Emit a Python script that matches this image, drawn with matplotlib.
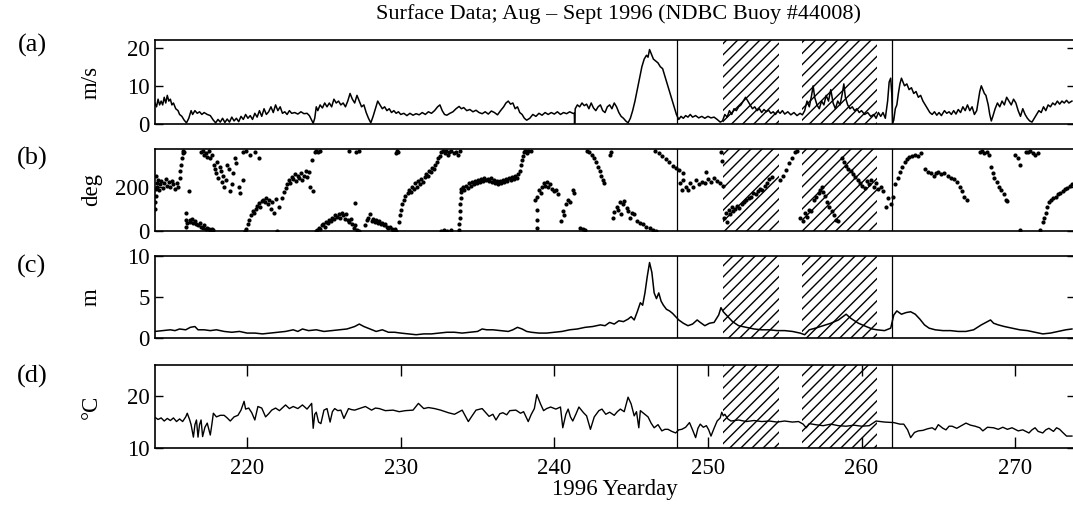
import matplotlib
matplotlib.use('Agg')
import matplotlib.pyplot as plt

plt.rcParams['font.family'] = ['Liberation Serif', 'DejaVu Serif']
plt.rcParams['hatch.linewidth'] = 1.0

# ---- data (yearday 1996) ----
# (a) wind speed, m/s
wspd_day = [
    214.0, 214.1, 214.2, 214.3, 214.4, 214.5, 214.6, 214.7, 214.8, 214.9,
    215.0, 215.1, 215.2, 215.35, 215.5, 215.6, 215.75, 215.9, 216.05, 216.2,
    216.35, 216.45, 216.6, 216.75, 216.9, 217.05, 217.2, 217.4, 217.6, 217.8,
    217.95, 218.1, 218.25, 218.4, 218.55, 218.7, 218.85, 219.0, 219.15, 219.3,
    219.45, 219.6, 219.75, 219.9, 220.05, 220.2, 220.35, 220.5, 220.65, 220.8,
    220.95, 221.1, 221.25, 221.4, 221.55, 221.7, 221.85, 222.0, 222.15, 222.3,
    222.45, 222.6, 222.75, 222.9, 223.1, 223.3, 223.5, 223.7, 223.9, 224.05,
    224.2, 224.3, 224.4, 224.5, 224.6, 224.75, 224.9, 225.05, 225.2, 225.35,
    225.5, 225.65, 225.8, 225.95, 226.1, 226.25, 226.4, 226.55, 226.7, 226.85,
    227.0, 227.15, 227.3, 227.45, 227.6, 227.75, 227.9, 228.05, 228.2, 228.35,
    228.5, 228.65, 228.8, 228.95, 229.1, 229.25, 229.4, 229.55, 229.7, 229.85,
    230.0, 230.2, 230.4, 230.6, 230.8, 231.0, 231.2, 231.4, 231.6, 231.8,
    232.0, 232.2, 232.4, 232.55, 232.7, 232.85, 233.0, 233.2, 233.4, 233.6,
    233.8, 233.95, 234.1, 234.3, 234.5, 234.7, 234.9, 235.1, 235.3, 235.5,
    235.7, 235.9, 236.1, 236.3, 236.5, 236.7, 236.85, 237.0, 237.15, 237.3,
    237.45, 237.6, 237.75, 237.9, 238.05, 238.2, 238.4, 238.6, 238.8, 239.0,
    239.2, 239.4, 239.6, 239.8, 240.0, 240.2, 240.4, 240.6, 240.8, 241.0,
    241.2, 241.3, 241.32, 241.36, 241.5, 241.65, 241.8, 241.95, 242.1, 242.25,
    242.4, 242.55, 242.7, 242.85, 243.0, 243.15, 243.3, 243.45, 243.6, 243.75,
    243.9, 244.05, 244.2, 244.35, 244.5, 244.65, 244.8, 244.95, 245.1, 245.25,
    245.4, 245.55, 245.7, 245.85, 246.0, 246.1, 246.2, 246.3, 246.45, 246.6,
    246.75, 246.9, 247.05, 247.2, 247.35, 247.5, 247.65, 247.8, 247.95, 248.1,
    248.25, 248.4, 248.55, 248.7, 248.85, 249.0, 249.2, 249.4, 249.6, 249.8,
    250.0, 250.2, 250.4, 250.6, 250.8, 250.95, 251.1, 251.25, 251.4, 251.55,
    251.7, 251.85, 252.0, 252.15, 252.3, 252.45, 252.6, 252.75, 252.9, 253.05,
    253.2, 253.35, 253.5, 253.65, 253.8, 253.95, 254.1, 254.25, 254.4, 254.55,
    254.7, 254.85, 255.0, 255.2, 255.4, 255.6, 255.8, 256.0, 256.15, 256.3,
    256.45, 256.6, 256.75, 256.85, 256.95, 257.1, 257.25, 257.4, 257.55, 257.7,
    257.85, 258.0, 258.15, 258.3, 258.45, 258.6, 258.75, 258.85, 258.95, 259.1,
    259.25, 259.4, 259.55, 259.7, 259.85, 260.0, 260.2, 260.4, 260.6, 260.8,
    260.95, 261.1, 261.25, 261.4, 261.55, 261.7, 261.8, 261.9, 261.97, 262.02,
    262.1, 262.2, 262.3, 262.4, 262.5, 262.6, 262.7, 262.8, 262.95, 263.1,
    263.25, 263.4, 263.55, 263.7, 263.85, 264.0, 264.15, 264.3, 264.45, 264.6,
    264.75, 264.9, 265.05, 265.2, 265.4, 265.55, 265.7, 265.85, 266.0, 266.15,
    266.3, 266.45, 266.6, 266.75, 266.9, 267.05, 267.2, 267.35, 267.5, 267.6,
    267.7, 267.8, 267.9, 268.0, 268.1, 268.25, 268.35, 268.45, 268.55, 268.7,
    268.85, 269.0, 269.15, 269.3, 269.45, 269.6, 269.75, 269.9, 270.05, 270.2,
    270.35, 270.5, 270.65, 270.8, 270.95, 271.1, 271.25, 271.4, 271.55, 271.7,
    271.85, 272.0, 272.15, 272.3, 272.45, 272.6, 272.75, 272.9, 273.05, 273.2,
    273.35, 273.5, 273.7,
]
wspd = [
    5.5, 4.5, 6.5, 5, 6, 5, 7, 5.5, 7.5, 6,
    6.5, 5, 5.5, 4, 3.5, 2.5, 2, 1, 0.3, 1.5,
    3.5, 2.5, 3.5, 2.8, 3.2, 2.5, 3, 2.5, 2.2, 1,
    0.3, 1.2, 0.5, 1.5, 0.4, 1.3, 0.5, 1.8, 0.8, 1.5,
    0.6, 2, 1.2, 2.5, 1.5, 2.2, 1.2, 2.8, 1.8, 3.5,
    2.0, 4, 2.5, 3.2, 4.5, 3, 5, 3.5, 4.5, 2.8,
    3.2, 2.5, 3.5, 2.8, 3.0, 2.6, 3.2, 2.7, 2.8, 2.2,
    1.0, 0.2, 1.5, 4.5, 3.5, 5, 4.2, 5.5, 4.5, 5.5,
    4.5, 6.5, 5.5, 6, 5, 5.5, 4.5, 6, 8, 6.5,
    5.5, 7.5, 6, 4.5, 5, 3, 1.5, 0.3, 2, 4,
    6, 5, 4, 4.5, 3.5, 4, 3, 3.5, 2.8, 3.2,
    2.5, 2.8, 2.2, 2.8, 2.3, 2.7, 2.4, 3.0, 2.5, 3.2,
    2.8, 3.5, 4.5, 5, 3.5, 2.5, 2.3, 2.8, 3.2, 4,
    4.6, 4, 4.3, 3.5, 3.8, 3.2, 3.6, 3, 2.7, 3.2,
    2.6, 3.4, 3.0, 2.4, 3.5, 4.5, 5.5, 6, 5.2, 5.5,
    4, 4.5, 3, 2.5, 1.5, 1.0, 1.5, 2.5, 2, 2.8,
    2.3, 3, 2.5, 3, 2.6, 3.2, 2.5, 3, 2.7, 3.2,
    2.8, 2.8, 0.1, 4, 5, 4.5, 5.5, 4.8, 5.2, 4,
    5.5, 4.2, 3.5, 4.5, 5, 3.5, 3, 4.5, 5, 4,
    5.5, 4.5, 3, 2, 1.5, 0.8, 0.3, 1.5, 3.5, 6,
    9, 12, 15, 17, 18, 17.5, 19.5, 18.5, 17, 16.5,
    16, 15, 14.5, 12.5, 10.5, 8.5, 6.5, 4.5, 2.5, 1.2,
    2, 1.5, 2.2, 1.8, 2.5, 1.8, 2.2, 1.6, 2, 1.5,
    2, 1.6, 1.8, 1.2, 0.5, 0.8, 2.5, 1.8, 3.5, 2.5,
    4, 3.5, 4.5, 5, 6, 7, 6, 5, 4, 4.5,
    3.5, 4, 3, 3.8, 3.2, 3.6, 2.8, 3.2, 2.5, 3.4,
    2.8, 3.5, 2.6, 3.2, 2.4, 3, 2.2, 2.8, 2.4, 3.5,
    6, 4.5, 7.5, 10, 7, 5, 4, 6, 5, 7.5,
    6, 9, 5.5, 4, 6, 5, 8, 10.5, 7, 5,
    4, 4.5, 3.5, 4, 3, 3.5, 2.5, 3, 2, 2.5,
    1.5, 3, 2, 3, 1.5, 6, 11, 12, 8, 0.3,
    1, 4, 5, 8, 10.5, 12, 11, 10, 10.5, 9,
    9.5, 8, 8.5, 7, 7.5, 6, 5, 4, 3, 2.5,
    3.2, 2.3, 3, 2.2, 3.5, 2.8, 3.2, 2.5, 3.5, 2.6,
    3.8, 3, 4.5, 3.5, 5, 3.5, 4.5, 2.5, 3.5, 6,
    8.5, 10, 9, 8, 7.5, 5, 2.5, 0.8, 2, 4,
    5.5, 4.5, 6, 5, 7, 6, 5, 6.5, 5.5, 3.5,
    2, 4, 2.5, 1.5, 0.8, 0.5, 1.5, 2.5, 3.5, 3,
    4.5, 3.5, 5, 4.5, 5.5, 5, 6, 5.2, 6, 5.5,
    6.2, 5.5, 6,
]

# (b) wind direction, deg (individual observations)
wdir_day = [
    214.0, 214.02, 214.04, 214.06, 214.08, 214.1, 214.15, 214.2, 214.25, 214.3, 214.4,
    214.5, 214.6, 214.7, 214.8, 214.9, 215.0, 215.1, 215.2, 215.3, 215.4, 215.5,
    215.6, 215.65, 215.7, 215.75, 215.8, 215.85, 215.9,
    216.0, 216.02, 216.05, 216.1, 216.2, 216.25, 216.3, 216.4, 216.5, 216.6, 216.7,
    216.8, 216.9, 217.0, 217.1, 217.2, 217.3, 217.4, 217.5, 217.6, 217.7, 217.8,
    217.0, 217.1, 217.2, 217.3, 217.4, 217.5, 217.6, 217.7,
    217.85, 217.9, 218.0, 218.05, 218.1, 218.2, 218.3, 218.35, 218.45, 218.5, 218.6,
    218.7, 218.8, 218.9, 219.0, 219.1, 219.2, 219.3, 219.45, 219.55, 219.7,
    219.7, 219.9, 220.2, 220.5, 220.8,
    219.85, 219.95, 220.05, 220.15, 220.25, 220.35, 220.45, 220.55, 220.65, 220.75, 220.85, 220.95,
    221.05, 221.15, 221.25, 221.35, 221.45, 221.55, 221.65, 221.75, 221.85, 221.95, 222.05,
    222.3, 222.4, 222.5, 222.6, 222.7, 222.8, 222.9, 223.0, 223.1, 223.2,
    223.3, 223.4, 223.5, 223.6, 223.7, 223.8, 223.9, 224.0, 224.1,
    224.2, 224.3, 224.4, 224.5, 224.6, 224.75,
    224.45, 224.55, 224.65, 224.75, 224.85, 224.95, 225.05, 225.15, 225.25, 225.35,
    225.45, 225.55, 225.65, 225.75, 225.85, 225.95, 226.05, 226.15, 226.25, 226.35,
    226.45, 226.55, 226.65, 226.75, 226.85, 226.95, 227.05, 227.15, 227.25,
    227.0, 226.6, 227.1, 227.3,
    227.7, 227.8, 227.9, 228.0, 228.1, 228.2, 228.3, 228.4, 228.5, 228.6, 228.7,
    228.8, 228.9, 229.0, 229.1, 229.2, 229.3, 229.4, 229.5, 229.6, 229.7,
    229.7, 229.75, 229.85,
    229.9, 229.95, 230.0, 230.1, 230.2, 230.3, 230.45, 230.55,
    230.65, 230.75, 230.85, 230.95, 231.05, 231.15, 231.25, 231.35, 231.45, 231.55, 231.65,
    231.75, 231.85, 231.95, 232.05, 232.15, 232.25, 232.35, 232.45, 232.55, 232.65, 232.75,
    232.85, 232.95, 233.05, 233.15, 233.3, 233.45, 233.6, 233.75, 233.85, 232.6, 232.8, 233.0, 233.25,
    233.8, 233.82, 233.84, 233.86, 233.88, 233.9, 233.92,
    233.95, 234.05, 234.15, 234.25, 234.35, 234.45, 234.55, 234.65, 234.75, 234.85,
    234.95, 235.05, 235.15, 235.25, 235.35, 235.45, 235.55, 235.65, 235.75, 235.85,
    235.95, 236.05, 236.15, 236.25, 236.35, 236.45, 236.55, 236.65, 236.75, 236.85,
    236.95, 237.05, 237.15, 237.25, 237.35, 237.45, 237.55, 237.65,
    237.75, 237.85, 237.9, 237.95, 238.0, 238.1, 238.2, 238.3,
    238.45, 238.75, 238.85, 238.88, 238.9,
    238.9, 239.0, 239.1, 239.2, 239.3, 239.4, 239.5, 239.6, 239.75, 239.85, 239.95, 240.1, 240.25,
    240.45, 240.55, 240.65, 240.75, 240.9, 241.05, 241.2, 241.3,
    241.7, 241.85, 242.0,
    242.15, 242.25, 242.45, 242.6, 242.7, 242.85, 242.95, 243.05, 243.15, 243.25, 243.6, 243.7,
    243.8, 243.9, 244.05, 244.15, 244.25, 244.35, 244.5, 244.55, 244.7, 244.8,
    244.9, 245.05, 245.2, 245.4, 245.6, 245.8, 246.0, 246.2, 246.4, 246.6,
    246.55, 246.8, 247.0, 247.25, 247.45, 247.7, 247.9, 248.1,
    248.2, 248.3, 248.35, 248.4, 248.55, 248.7, 248.85, 249.0, 249.2, 249.4, 249.6,
    249.8, 250.0, 250.2, 250.4, 250.6, 250.8, 250.95, 249.9, 250.85, 250.9,
    251.05, 251.15, 251.25, 251.35, 251.45, 251.55, 251.65, 251.75, 251.9, 252.05, 252.2, 252.35,
    252.5, 252.65, 252.8, 252.95, 253.1, 253.25, 253.4, 253.55, 253.7, 253.85, 254.0, 254.15,
    254.7, 254.9, 255.1, 255.3, 255.5, 255.7, 255.8,
    256.0, 256.2, 256.3, 256.45, 256.6, 256.7,
    256.9, 257.05, 257.2, 257.3, 257.4, 257.5, 257.6, 257.75, 257.9, 258.05, 258.2, 258.35, 258.5,
    258.7, 258.85, 259.0, 259.15, 259.3, 259.45, 259.6, 259.75, 259.9, 260.05,
    260.2, 260.35, 260.5, 260.65, 260.8, 260.95, 261.1, 261.25, 261.4,
    261.6, 261.75, 261.9, 262.05,
    262.2, 262.35, 262.5, 262.65, 262.8, 262.95, 263.1, 263.3, 263.5, 263.7, 263.9,
    264.15, 264.35, 264.5, 264.7, 264.85, 265.0, 265.2, 265.4, 265.6, 265.8,
    266.0, 266.2, 266.4, 266.55, 266.7, 266.85,
    267.7, 267.85, 268.0, 268.15, 268.3,
    268.45, 268.55, 268.65, 268.8, 268.95, 269.1, 269.25, 269.4, 269.5,
    270.0, 270.2, 270.35, 270.3,
    270.7, 270.85, 271.0, 271.15, 271.3, 271.5, 271.65, 271.8,
    271.9, 272.0, 272.1, 272.2, 272.35, 272.5, 272.65, 272.8, 272.95, 273.1, 273.25, 273.4, 273.55, 273.7,
]
wdir = [
    100, 130, 160, 250, 190, 215, 200, 230, 185, 210, 225,
    195, 215, 235, 205, 220, 200, 225, 210, 190, 215, 200,
    240, 270, 300, 330, 350, 360, 355,
    20, 50, 80, 35, 180, 50, 40, 55, 35, 45, 30,
    25, 35, 20, 15, 25, 10, 15, 8, 5, 10, 3,
    355, 360, 345, 350, 335, 360, 330, 345,
    300, 280, 260, 310, 240, 290, 270, 220, 250, 200, 230,
    300, 280, 180, 210, 260, 330, 305, 200, 170, 230,
    355, 360, 345, 358, 330,
    0, 10, 30, 50, 70, 90, 80, 100, 115, 125, 110, 135,
    140, 130, 150, 120, 140, 100, 130, 80, 145, 0, 110,
    150, 175, 195, 210, 230, 215, 245, 235, 255, 225,
    250, 240, 260, 230, 250, 270, 245, 265, 200,
    320, 180, 358, 360, 355, 360,
    0, 5, 15, 10, 25, 30, 20, 40, 35, 50,
    45, 60, 55, 70, 65, 75, 60, 80, 70, 55,
    75, 50, 40, 55, 30, 15, 25, 5, 0,
    125, 360, 355, 360,
    25, 50, 60, 75, 45, 55, 40, 50, 35, 45, 30,
    35, 25, 30, 20, 15, 20, 10, 5, 8, 0,
    350, 360, 355,
    40, 70, 95, 120, 140, 160, 170, 185,
    175, 200, 190, 215, 200, 225, 210, 235, 220, 245, 255,
    250, 270, 265, 285, 280, 300, 310, 330, 340, 355, 360,
    350, 360, 345, 355, 360, 350, 358, 345, 360, 0, 3, 0, 5,
    5, 30, 60, 90, 120, 150, 175,
    190, 200, 185, 205, 195, 215, 205, 220, 210, 225,
    215, 230, 220, 235, 225, 240, 230, 235, 225, 240,
    220, 230, 215, 225, 210, 225, 215, 230, 220, 235,
    225, 240, 230, 245, 235, 250, 240, 255,
    270, 300, 320, 340, 355, 360, 350, 360,
    360, 140, 95, 50, 15,
    155, 185, 170, 200, 215, 205, 220, 200, 210, 190, 180, 185, 165,
    45, 90, 70, 120, 140, 130, 185, 170,
    15, 10, 5,
    360, 355, 345, 330, 310, 290, 270, 250, 230, 215, 345, 355,
    60, 85, 110, 95, 130, 75, 120, 135, 105, 90,
    60, 80, 75, 45, 35, 30, 20, 15, 5, 0,
    360, 350, 340, 325, 310, 295, 285, 275,
    215, 185, 260, 230, 200, 185, 215, 200, 230, 210, 220,
    215, 235, 220, 240, 225, 215, 205, 265, 355, 315,
    60, 80, 40, 95, 75, 110, 90, 100, 115, 105, 120, 130,
    140, 150, 155, 170, 165, 180, 190, 185, 205, 215, 235, 245,
    230, 250, 275, 305, 330, 355, 360,
    60, 45, 80, 65, 95, 90,
    140, 155, 170, 185, 200, 175, 160, 130, 110, 90, 70, 50, 45,
    330, 310, 295, 280, 270, 255, 245, 230, 215, 205,
    195, 225, 210, 230, 200, 215, 190, 200, 180,
    110, 150, 120, 155,
    210, 240, 265, 290, 310, 325, 335, 340, 345, 340, 350,
    280, 265, 260, 250, 260, 265, 255, 260, 250, 240,
    235, 220, 200, 180, 155, 140,
    355, 360, 350, 355, 345,
    290, 260, 240, 220, 200, 185, 165, 140, 135,
    345, 330, 300, 5,
    358, 355, 360, 350, 345, 350, 3, 40,
    60, 80, 110, 130, 140, 150, 155, 165, 170, 180, 190, 195, 205, 210,
]

# (c) significant wave height, m
hs_day = [
    214.0, 214.5, 215.0, 215.3, 215.6, 216.0, 216.3, 216.6, 216.8, 217.2,
    217.6, 218.0, 218.5, 219.0, 219.5, 220.0, 220.5, 221.0, 221.5, 222.0,
    222.5, 223.0, 223.3, 223.6, 224.0, 224.5, 225.0, 225.5, 226.0, 226.5,
    227.0, 227.3, 227.6, 228.0, 228.4, 228.8, 229.2, 229.6, 230.0, 230.5,
    231.0, 231.5, 232.0, 232.5, 233.0, 233.5, 234.0, 234.5, 235.0, 235.3,
    235.6, 236.0, 236.5, 237.0, 237.3, 237.6, 237.9, 238.2, 238.5, 239.0,
    239.5, 240.0, 240.5, 241.0, 241.5, 242.0, 242.5, 243.0, 243.3, 243.6,
    243.9, 244.2, 244.5, 244.8, 245.0, 245.2, 245.4, 245.6, 245.75, 245.9,
    246.05, 246.2, 246.35, 246.5, 246.65, 246.8, 246.95, 247.1, 247.3, 247.5,
    247.7, 247.9, 248.1, 248.4, 248.7, 249.0, 249.3, 249.5, 249.8, 250.1,
    250.4, 250.7, 250.85, 251.0, 251.3, 251.6, 252.0, 252.5, 253.0, 253.5,
    254.0, 254.5, 255.0, 255.5, 256.0, 256.3, 256.6, 257.0, 257.5, 258.0,
    258.5, 259.0, 259.3, 259.8, 260.3, 260.7, 261.0, 261.5, 261.9, 262.1,
    262.3, 262.6, 262.9, 263.2, 263.5, 263.8, 264.1, 264.4, 264.8, 265.3,
    265.8, 266.3, 266.8, 267.3, 267.8, 268.1, 268.4, 268.6, 268.9, 269.3,
    269.8, 270.3, 270.8, 271.3, 271.8, 272.3, 272.8, 273.3, 273.7,
]
hs = [
    0.8, 0.9, 1.0, 0.9, 1.1, 1.0, 1.3, 1.4, 1.0, 1.0,
    0.9, 1.0, 0.8, 0.7, 0.8, 0.6, 0.6, 0.5, 0.6, 0.7,
    0.8, 1.0, 0.8, 1.1, 0.9, 1.0, 0.8, 0.9, 1.0, 1.1,
    1.4, 1.7, 1.4, 1.1, 0.8, 1.0, 0.7, 0.7, 0.6, 0.5,
    0.4, 0.5, 0.5, 0.6, 0.7, 0.7, 0.6, 0.7, 0.8, 1.1,
    1.0, 1.0, 0.9, 0.8, 1.0, 1.3, 1.1, 0.8, 0.7, 0.6,
    0.6, 0.7, 0.8, 1.0, 1.1, 1.3, 1.4, 1.6, 1.5, 1.9,
    1.7, 2.1, 2.0, 2.3, 2.6, 2.2, 3.2, 4.3, 4.0, 5.5,
    7.5, 9.2, 8.0, 5.5, 4.8, 5.5, 4.5, 4.0, 3.5, 3.3,
    3.0, 2.6, 2.2, 1.8, 1.5, 1.7, 2.2, 1.9, 1.5, 1.8,
    1.9, 2.8, 3.7, 3.2, 2.6, 2.0, 1.5, 1.3, 1.1, 1.0,
    1.0, 0.9, 0.9, 0.8, 0.6, 0.4, 1.0, 1.2, 1.5, 1.8,
    2.2, 2.9, 2.4, 1.8, 1.4, 1.1, 1.0, 0.9, 1.2, 2.8,
    3.3, 2.9, 3.1, 3.2, 2.9, 2.3, 1.6, 1.2, 1.0, 0.9,
    0.9, 0.8, 0.8, 1.0, 1.6, 1.9, 2.2, 1.8, 1.6, 1.4,
    1.2, 1.0, 0.9, 0.7, 0.5, 0.6, 0.8, 1.0, 1.1,
]

# (d) sea surface temperature, deg C
sst_day = [
    214.0, 214.2, 214.4, 214.6, 214.8, 215.0, 215.2, 215.4, 215.6, 215.8,
    216.0, 216.1, 216.25, 216.35, 216.5, 216.6, 216.7, 216.8, 216.9, 217.0,
    217.1, 217.25, 217.4, 217.6, 217.7, 217.8, 218.0, 218.25, 218.5, 218.7,
    218.9, 219.15, 219.4, 219.6, 219.8, 219.9, 220.1, 220.3, 220.5, 220.7,
    220.95, 221.2, 221.4, 221.6, 221.85, 222.1, 222.5, 222.75, 223.0, 223.3,
    223.6, 223.9, 224.2, 224.3, 224.4, 224.5, 224.65, 224.8, 225.0, 225.2,
    225.4, 225.55, 225.7, 225.9, 226.1, 226.3, 226.6, 226.8, 227.0, 227.3,
    227.7, 228.1, 228.35, 228.6, 229.0, 229.5, 229.9, 230.3, 230.8, 231.15,
    231.5, 231.8, 232.2, 232.6, 233.1, 233.5, 234.0, 234.4, 234.6, 234.9,
    235.3, 235.75, 236.0, 236.2, 236.45, 236.65, 236.9, 237.1, 237.5, 237.8,
    238.0, 238.3, 238.5, 238.7, 238.86, 239.1, 239.3, 239.5, 239.76, 240.1,
    240.4, 240.55, 240.75, 240.9, 241.05, 241.2, 241.4, 241.6, 241.9, 242.1,
    242.35, 242.6, 242.9, 243.1, 243.35, 243.6, 243.9, 244.1, 244.3, 244.55,
    244.8, 245.0, 245.2, 245.35, 245.5, 245.6, 245.85, 246.1, 246.3, 246.5,
    246.75, 247.0, 247.2, 247.4, 247.65, 247.9, 248.1, 248.3, 248.55, 248.8,
    249.0, 249.2, 249.35, 249.5, 249.7, 249.9, 250.05, 250.2, 250.4, 250.6,
    250.8, 250.9, 251.0, 251.1, 251.3, 251.5, 252.0, 252.5, 253.0, 253.5,
    254.0, 254.5, 255.0, 255.5, 255.9, 256.2, 256.4, 256.6, 257.0, 257.5,
    258.0, 258.5, 259.0, 259.5, 260.0, 260.5, 260.95, 261.5, 262.1, 262.5,
    262.75, 263.0, 263.2, 263.45, 263.7, 264.0, 264.3, 264.6, 264.8, 265.0,
    265.3, 265.5, 265.7, 265.9, 266.2, 266.5, 266.8, 267.1, 267.4, 267.7,
    267.9, 268.2, 268.6, 268.9, 269.2, 269.5, 269.8, 270.2, 270.5, 270.9,
    271.1, 271.3, 271.5, 271.8, 272.0, 272.2, 272.5, 272.7, 272.9, 273.1,
    273.35, 273.7,
]
sst = [
    15.9, 15.5, 15.8, 15.2, 15.7, 15.3, 15.8, 15.1, 15.6, 15.1,
    16.0, 16.7, 15.5, 14.5, 12.1, 14.5, 15.4, 12.1, 14.5, 15.4,
    12.2, 14.0, 14.8, 12.5, 14.5, 16.7, 16.0, 16.3, 16.3, 15.8,
    15.2, 16.0, 16.3, 17.3, 19.0, 17.5, 17.7, 16.8, 15.4, 18.0,
    17.7, 16.0, 16.6, 17.3, 17.7, 17.2, 18.3, 17.6, 18.0, 17.6,
    18.3, 17.5, 18.6, 13.8, 16.5, 16.9, 15.0, 14.7, 17.3, 17.6,
    15.0, 17.0, 17.6, 17.2, 17.3, 15.7, 17.6, 17.4, 17.3, 17.6,
    18.0, 17.3, 17.7, 17.6, 17.2, 17.3, 17.0, 17.2, 17.3, 18.6,
    17.6, 17.8, 17.6, 17.3, 16.8, 16.5, 17.3, 15.1, 16.0, 17.3,
    17.6, 16.1, 16.5, 15.4, 16.6, 16.8, 16.4, 17.2, 17.3, 16.7,
    17.0, 15.1, 16.5, 17.6, 20.3, 18.5, 17.2, 17.6, 17.9, 17.5,
    17.9, 13.9, 16.5, 17.5, 16.0, 15.2, 16.5, 17.9, 16.8, 16.2,
    13.6, 16.0, 17.2, 17.5, 16.5, 16.9, 16.3, 17.0, 17.5, 17.0,
    19.8, 18.5, 16.2, 17.0, 13.9, 17.2, 16.6, 16.0, 14.8, 13.9,
    14.5, 13.3, 13.6, 13.6, 13.2, 12.9, 13.5, 13.6, 14.0, 14.9,
    13.5, 12.0, 13.8, 14.6, 14.0, 14.3, 13.5, 12.3, 13.8, 15.2,
    15.8, 16.9, 16.2, 16.5, 15.6, 15.2, 15.4, 15.1, 15.3, 15.1,
    15.2, 15.0, 15.2, 15.0, 15.1, 14.6, 13.9, 14.7, 14.5, 14.3,
    14.6, 14.3, 14.2, 14.4, 14.2, 14.3, 15.2, 15.0, 14.9, 14.6,
    14.6, 13.5, 12.0, 13.0, 13.3, 13.4, 13.7, 13.9, 13.5, 14.5,
    13.8, 13.5, 14.2, 14.2, 13.8, 14.3, 14.8, 14.4, 14.2, 13.9,
    13.3, 14.0, 13.9, 13.6, 14.0, 13.6, 13.9, 13.3, 13.5, 12.9,
    13.5, 13.9, 13.2, 12.9, 13.5, 13.8, 13.2, 13.9, 13.6, 13.0,
    12.3, 12.3,
]

event_days = [248, 262]              # vertical marker lines
hatch_spans = [(251.0, 254.6), (256.1, 261.0)]
year_ticks = [220, 230, 240, 250, 260, 270]

# ---- figure ----
W, H = 1073, 505
fig = plt.figure(figsize=(W / 100, H / 100), dpi=100)

left = 155 / W
width = 920 / W
rows = [(40, 124), (149, 231), (256, 338), (365, 448)]   # top/bottom pixel rows
axes = []
for top, bot in rows:
    ax = fig.add_axes([left, 1 - bot / H, width, (bot - top) / H])
    axes.append(ax)

ax_a, ax_b, ax_c, ax_d = axes

ax_a.plot(wspd_day, wspd, color='black', lw=1.1)
ax_b.plot(wdir_day, wdir, 'o', color='black', ms=3.0, mew=0)
ax_c.plot(hs_day, hs, color='black', lw=1.1)
ax_d.plot(sst_day, sst, color='black', lw=1.0)

ylims = [(0, 22), (0, 370), (0, 10), (10, 26)]
yticks = [[0, 10, 20], [0, 200], [0, 5, 10], [10, 20]]
ylabels = ['m/s', 'deg', 'm', '°C']
letters = ['(a)', '(b)', '(c)', '(d)']
letter_y = [45, 158, 266, 376]

for ax, yl, yt, lab, let, ly in zip(axes, ylims, yticks, ylabels, letters, letter_y):
    for s0, s1 in hatch_spans:
        ax.axvspan(s0, s1, facecolor='none', edgecolor='black', hatch='///', lw=0, zorder=0)
    for d in event_days:
        ax.axvline(d, color='black', lw=0.9)
    ax.set_xlim(214, 273.9)
    ax.set_ylim(*yl)
    ax.set_yticks(yt)
    ax.tick_params(axis='y', direction='in', length=6, width=1, right=True,
                   labelsize=16.5, pad=4)
    ax.set_ylabel(lab, fontsize=16.5)
    ax.yaxis.set_label_coords(-0.058, 0.5)
    for sp in ax.spines.values():
        sp.set_linewidth(1.2)
    fig.text(32 / W, 1 - ly / H, let, ha='center', va='center', fontsize=19)

for ax in axes[:3]:
    ax.set_xticks([])

ax_d.set_xticks(year_ticks)
ax_d.tick_params(axis='x', direction='in', length=8, width=1, top=True,
                 labelsize=16.5, pad=7)
ax_d.set_xlabel('1996 Yearday', fontsize=16.5, labelpad=0)

fig.text(618 / W, 1 - 14 / H, 'Surface Data; Aug – Sept 1996 (NDBC Buoy #44008)',
         ha='center', va='center', fontsize=16)

plt.savefig('out.png', dpi=100)
